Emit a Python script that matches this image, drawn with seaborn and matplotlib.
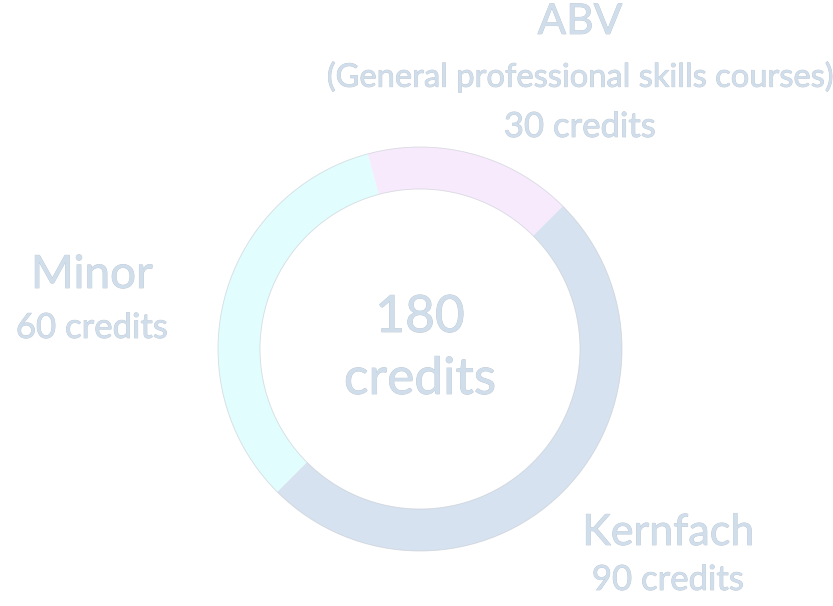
import matplotlib
matplotlib.use("Agg")
import matplotlib.pyplot as plt
import matplotlib.patheffects as pe
import seaborn as sns

categories = ["ABV", "Kernfach", "Minor"]
credits = [30, 90, 60]
subtitles = ["(General professional skills courses)", "", ""]
total_value = "180"
total_unit = "credits"
colors = ["#f7eafc", "#d6e2ef", "#e1fdfe"]

sns.set_theme(style="white")
plt.rcParams["font.family"] = ["Lato", "DejaVu Sans"]

W, H = 833, 606
fig = plt.figure(figsize=(W / 100, H / 100), dpi=100)
ax = fig.add_axes([0, 0, 1, 1])

cx, cy, R, width = 420, H - 349, 202, 42
wedges, _ = ax.pie(credits, colors=colors, startangle=105, counterclock=False,
                   center=(cx, cy), radius=R, frame=True,
                   wedgeprops=dict(width=width, linewidth=0))
ax.set_xlim(0, W)
ax.set_ylim(0, H)
ax.axis("off")
for r in (R, R - width):
    ax.add_patch(plt.Circle((cx, cy), r, fill=False, lw=0.6, ec="#c4c8d0", alpha=0.6))

tc = "#d0ddeb"
eff = [pe.withStroke(linewidth=0.5, foreground="#bcc6d1")]

def txt(x, y, s, size):
    t = ax.text(x, H - y, s, ha="center", va="center", fontsize=size, color=tc,
                fontweight="normal")
    t.set_path_effects(eff)

txt(580, 22, categories[0], 30.5)
txt(580, 77, subtitles[0], 23.5)
txt(580, 127, f"{credits[0]} credits", 25)
txt(92, 275, categories[2], 33)
txt(92, 328, f"{credits[2]} credits", 25)
txt(668, 533, categories[1], 31)
txt(668, 580, f"{credits[1]} credits", 25)
txt(420, 318, total_value, 37)
txt(420, 380, total_unit, 37)

fig.savefig("out.png", dpi=100, facecolor="white")
